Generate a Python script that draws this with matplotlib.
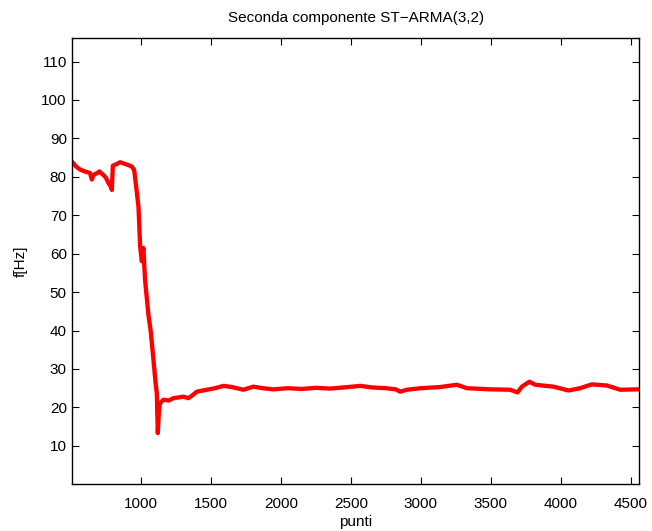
import numpy as np
import matplotlib.pyplot as plt

plt.rcParams['font.family'] = ['Liberation Sans', 'DejaVu Sans']

# sample index and estimated frequency of the second ST-ARMA(3,2) component
punti = [511, 540, 566, 600, 637, 650, 661, 690, 704, 732, 750, 768, 785, 793,
         800, 820, 852, 900, 935, 952, 968, 983, 995, 1007, 1018, 1030, 1054,
         1070, 1090, 1105, 1114, 1121, 1130, 1138, 1161, 1200, 1232, 1270, 1304,
         1340, 1370, 1400, 1471, 1530, 1590, 1650, 1732, 1804, 1870, 1947, 2050,
         2150, 2250, 2350, 2450, 2568, 2650, 2750, 2820, 2852, 2900, 3000, 3137,
         3257, 3328, 3495, 3637, 3690, 3721, 3775, 3816, 3947, 4054, 4137, 4221,
         4328, 4423, 4554]
freq = [83.8, 82.6, 81.9, 81.4, 81.0, 79.3, 80.5, 81.0, 81.4, 80.5, 79.8, 78.4,
        77.5, 76.6, 82.9, 83.2, 83.8, 83.2, 82.7, 81.8, 77.0, 72.3, 61.9, 58.0,
        61.5, 53.2, 44.1, 40.0, 32.4, 26.5, 23.7, 13.3, 19.5, 21.1, 22.0, 21.8,
        22.4, 22.6, 22.8, 22.4, 23.2, 24.1, 24.6, 25.0, 25.6, 25.3, 24.6, 25.4,
        25.0, 24.7, 25.0, 24.8, 25.1, 24.9, 25.2, 25.6, 25.2, 25.0, 24.7, 24.1,
        24.6, 25.0, 25.3, 25.9, 25.0, 24.7, 24.6, 23.9, 25.4, 26.7, 25.9, 25.4,
        24.4, 25.0, 26.0, 25.7, 24.6, 24.7]

fig = plt.figure(figsize=(6.52, 5.31), dpi=100)
ax = fig.add_axes([0.111, 0.088, 0.869, 0.841])

ax.plot(punti, freq, color='red', linewidth=3.1, solid_joinstyle='round')

ax.set_xlim(511, 4557)
ax.set_ylim(0, 116.2)
ax.set_xticks(np.arange(1000, 4501, 500))
ax.set_yticks(np.arange(10, 111, 10))
ax.tick_params(direction='in', top=True, right=True, length=5, width=0.8,
               labelsize=11)
ax.tick_params(axis='x', pad=9)
ax.tick_params(axis='y', pad=4)
for s in ax.spines.values():
    s.set_linewidth(1.0)

ax.set_title('Seconda componente ST\u2212ARMA(3,2)', fontsize=11, pad=11)
ax.set_xlabel('punti', fontsize=11, labelpad=3)
ax.set_ylabel('f[Hz]', fontsize=11, labelpad=10)

fig.savefig('out.png', dpi=100)
